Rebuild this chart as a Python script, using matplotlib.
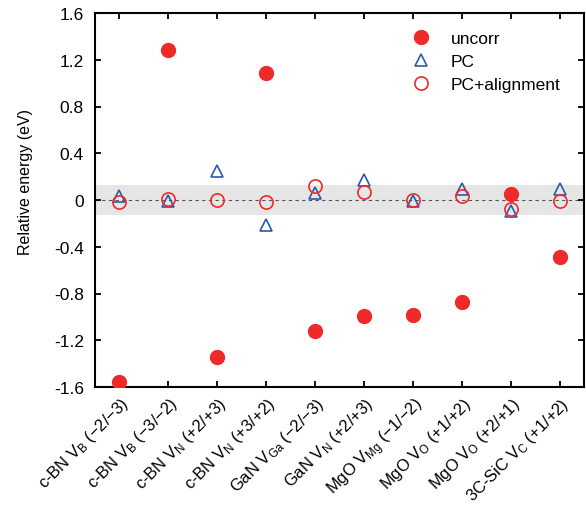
import numpy as np
import matplotlib
matplotlib.use("Agg")
import matplotlib.pyplot as plt

plt.rcParams['font.family'] = ['Liberation Sans', 'DejaVu Sans']
plt.rcParams['mathtext.fontset'] = 'custom'
plt.rcParams['mathtext.rm'] = 'Liberation Sans'
plt.rcParams['mathtext.it'] = 'Liberation Sans:italic'

# defects
labels = [
    "c-BN V$_{\\mathrm{B}}$ (\u22122/\u22123)",
    "c-BN V$_{\\mathrm{B}}$ (\u22123/\u22122)",
    "c-BN V$_{\\mathrm{N}}$ (+2/+3)",
    "c-BN V$_{\\mathrm{N}}$ (+3/+2)",
    "GaN V$_{\\mathrm{Ga}}$ (\u22122/\u22123)",
    "GaN V$_{\\mathrm{N}}$ (+2/+3)",
    "MgO V$_{\\mathrm{Mg}}$ (\u22121/\u22122)",
    "MgO V$_{\\mathrm{O}}$ (+1/+2)",
    "MgO V$_{\\mathrm{O}}$ (+2/+1)",
    "3C-SiC V$_{\\mathrm{C}}$ (+1/+2)",
]

uncorr = [-1.56, 1.28, -1.34, 1.09, -1.12, -0.99, -0.98, -0.87, 0.05, -0.49]
pc = [0.03, -0.01, 0.25, -0.21, 0.06, 0.175, -0.01, 0.09, -0.09, 0.09]
pc_align = [-0.02, 0.01, 0.0, -0.02, 0.12, 0.07, 0.0, 0.03, -0.08, -0.01]

yticks = [1.6, 1.2, 0.8, 0.4, 0, -0.4, -0.8, -1.2, -1.6]
yticklabels = ["1.6", "1.2", "0.8", "0.4", "0", "-0.4", "-0.8", "-1.2", "-1.6"]
band = 0.125

red = '#ee2a2a'
blue = '#2a5aaa'

fig = plt.figure(figsize=(5.86, 5.10), dpi=100)
ax = fig.add_axes([95/586, 1-388/510, 489/586, 374/510])

x = np.arange(len(labels))

ax.axhspan(-band, band, color='#e6e6e6', lw=0, zorder=0)
ax.axhline(0, color='#555555', lw=0.8, ls=(0, (3, 3)), zorder=1)

ax.plot(x, uncorr, 'o', color=red, ms=10, mec=red, label='uncorr', zorder=3)
ax.plot(x, pc, '^', color=blue, ms=9, mfc='none', mew=1.2, label='PC', zorder=4)
ax.plot(x, pc_align, 'o', color=red, ms=9.5, mfc='none', mew=1.2, label='PC+alignment', zorder=5)

ax.set_xlim(-0.5, len(labels) - 0.5)
ax.set_ylim(-1.6, 1.6)
ax.set_yticks(yticks)
ax.set_yticklabels(yticklabels)
ax.set_xticks(x)
ax.set_xticklabels(labels, rotation=45, ha='right', rotation_mode='anchor',
                   fontsize=12)

ax.tick_params(direction='in', top=True, right=True, length=4, width=1.3)
ax.tick_params(axis='y', pad=8, labelsize=12.5)
ax.tick_params(axis='x', pad=5)
for s in ax.spines.values():
    s.set_linewidth(1.5)

ax.set_ylabel("Relative energy (eV)", fontsize=11.5, labelpad=15, y=0.55)

ax.legend(loc='upper left', bbox_to_anchor=(0.6, 0.995), frameon=False,
          fontsize=12.5, handletextpad=0.7, labelspacing=0.45, numpoints=1)

fig.savefig("out.png", dpi=100)
